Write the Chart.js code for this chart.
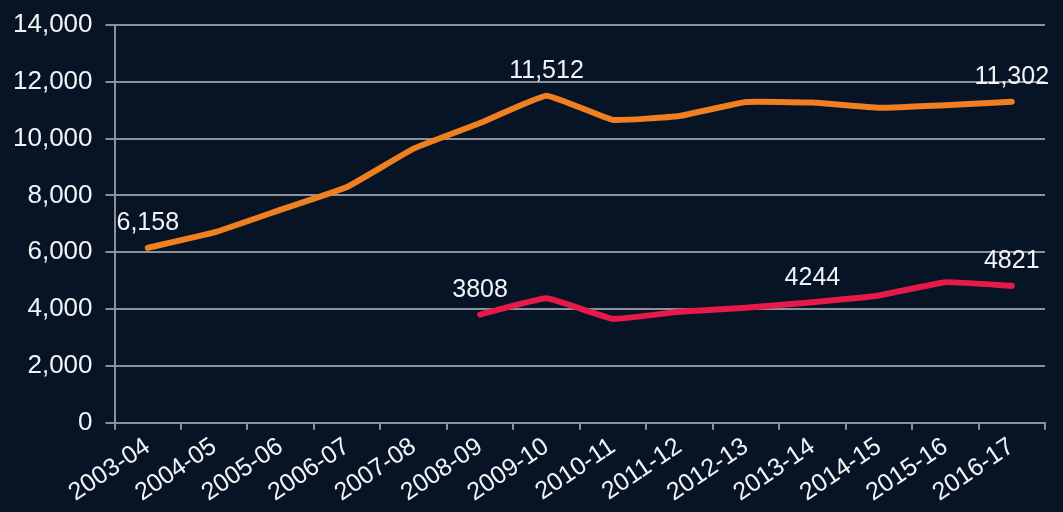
<!DOCTYPE html>
<html>
<head>
<meta charset="utf-8">
<script src="https://cdn.jsdelivr.net/npm/chart.js@4.4.0/dist/chart.umd.min.js"></script>
<style>
  html, body { margin: 0; padding: 0; background: #071426; }
  #wrap { width: 1063px; height: 512px; position: relative; }
</style>
</head>
<body>
<div id="wrap"><canvas id="myChart"></canvas></div>
<script>
// years on the x axis
const years = ['2003-04','2004-05','2005-06','2006-07','2007-08','2008-09','2009-10',
  '2010-11','2011-12','2012-13','2013-14','2014-15','2015-16','2016-17'];

// orange series
const orangeValues = [6158, 6700, 7500, 8300, 9650, 10550, 11512, 10660, 10800, 11290, 11270, 11090, 11180, 11302];
// red series, starts in 2008-09
const redValues = [null, null, null, null, null, 3808, 4380, 3660, 3910, 4050, 4244, 4480, 4950, 4821];

// which points get a value label, and the text
const orangeLabelIdx = [0, 6, 13];
const orangeLabelText = ['6,158', '11,512', '11,302'];
const redLabelIdx = [5, 10, 13];
const redLabelText = ['3808', '4244', '4821'];

const yTicks = [0, 2000, 4000, 6000, 8000, 10000, 12000, 14000];

const FONT = "'Liberation Sans', Arial, sans-serif";
const TEXT = '#f2f4f7';
const GRID = '#8b9099';

// draws the few value labels above the line
const pointLabels = {
  id: 'pointLabels',
  afterDatasetsDraw(chart) {
    const ctx = chart.ctx;
    const sets = [[orangeLabelIdx, orangeLabelText], [redLabelIdx, redLabelText]];
    ctx.save();
    ctx.font = '25px ' + FONT;
    ctx.fillStyle = TEXT;
    ctx.textAlign = 'center';
    ctx.textBaseline = 'bottom';
    sets.forEach(function (s, di) {
      const meta = chart.getDatasetMeta(di);
      s[0].forEach(function (idx, k) {
        const pt = meta.data[idx];
        ctx.fillText(s[1][k], pt.x, pt.y - 12);
      });
    });
    ctx.restore();
  }
};

const data = {
  labels: years,
  datasets: [{
    label: 'Orange',
    data: orangeValues,
    borderColor: '#f07f1f',
    backgroundColor: '#f07f1f',
    borderWidth: 6,
    borderCapStyle: 'round',
    borderJoinStyle: 'round',
    pointRadius: 0,
    tension: 0.1
  }, {
    label: 'Red',
    data: redValues,
    borderColor: '#e5194a',
    backgroundColor: '#e5194a',
    borderWidth: 6,
    borderCapStyle: 'round',
    borderJoinStyle: 'round',
    pointRadius: 0,
    tension: 0.1
  }]
};

const config = {
  type: 'line',
  data: data,
  plugins: [pointLabels],
  options: {
    responsive: true,
    maintainAspectRatio: false,
    animation: false,
    layout: { padding: { top: 0, right: 18, left: 0, bottom: 2 } },
    plugins: { legend: { display: false }, tooltip: { enabled: false } },
    scales: {
      x: {
        offset: true,
        grid: { offset: true, drawOnChartArea: false, drawTicks: true, tickLength: 7, color: GRID, lineWidth: 2 },
        border: { color: GRID, width: 2 },
        ticks: {
          color: TEXT, font: { family: FONT, size: 25 },
          autoSkip: false, minRotation: 34, maxRotation: 34, padding: 2
        }
      },
      y: {
        min: 0, max: 14000,
        afterBuildTicks(scale) { scale.ticks = yTicks.map(v => ({ value: v })); },
        afterFit(scale) { scale.paddingTop = 25; },
        grid: { color: GRID, lineWidth: 2, tickLength: 9 },
        border: { color: GRID, width: 2 },
        ticks: {
          color: TEXT, font: { family: FONT, size: 26 }, padding: 13,
          callback: v => v.toLocaleString('en-US')
        }
      }
    }
  }
};

new Chart(document.getElementById('myChart'), config);
</script>
</body>
</html>
